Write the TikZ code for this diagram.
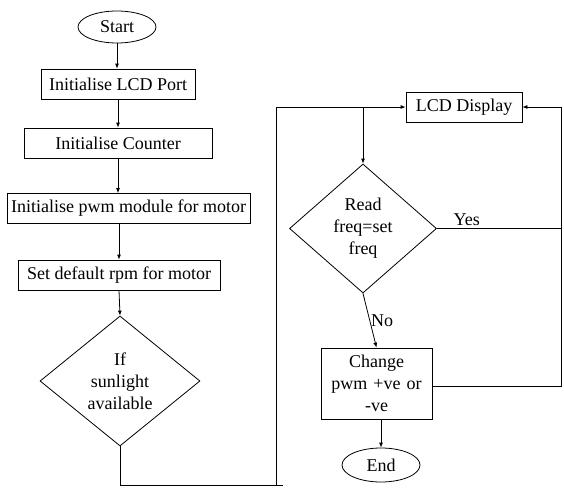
\documentclass[tikz,border=0pt]{standalone}
\usepackage{fontspec}
\setmainfont{Liberation Serif}
\usetikzlibrary{arrows.meta,shapes.geometric}

\begin{document}
\begin{tikzpicture}[x=1pt,y=-1pt,
    every node/.style={font=\fontsize{18}{22}\selectfont},
    proc/.style={draw,line width=0.8pt,minimum height=30pt,inner sep=2pt},
    term/.style={draw,ellipse,line width=0.8pt,inner sep=0pt},
    cond/.style={draw,diamond,line width=0.8pt,inner sep=0pt,align=center},
    arr/.style={line width=0.8pt,-{Latex[length=5pt,width=4pt]}},
    wire/.style={line width=0.8pt}]
  \useasboundingbox (0,0) rectangle (564,495);
  % left column
  \node[term,minimum width=78pt,minimum height=32pt] (start) at (117,27) {Start};
  \foreach \n/\x/\y/\w/\t in {1/118/84/154/Initialise LCD Port,
      2/118/143/188/Initialise Counter,
      3/128.5/208.5/243/Initialise pwm module for motor,
      4/119/275/202/Set default rpm for motor}{
    \node[proc,minimum width=\w pt] (b\n) at (\x,\y) {\t};
  }
  \node[cond,minimum width=160pt,minimum height=130pt] (sun) at (120,381) {If\\sunlight\\available};
  \foreach \a/\b in {start/b1,b1/b2,b2/b3}{
    \draw[arr] (\a.south) -- (\a.south |- \b.north);
  }
  \draw[arr] (b4.north |- b3.south) -- (b4.north);
  \draw[arr] (b4.south) -- (sun.north);
  % right column
  \node[proc,minimum width=116pt] (lcd) at (464,107) {LCD Display};
  \node[cond,minimum width=147pt,minimum height=129pt] (read) at (363,228.5) {Read\\freq=set\\freq};
  \node[proc,minimum width=111pt,minimum height=71pt,text width=104pt,align=center] (chg) at (376.5,383.5) {Change\\pwm +ve or\\-ve};
  \node[term,minimum width=78pt,minimum height=34pt] (end) at (381,465) {End};
  \coordinate (lo) at (120,485);
  \coordinate (lx) at (283,485);
  \coordinate (up) at (276,485);
  \coordinate (rt) at (561,386);
  % connectors
  \draw[wire] (sun.south) -- (lo) -- (lx);
  \draw[arr] (up) |- (lcd.west);
  \draw[arr] (read.north |- lcd.west) -- (read.north);
  \draw[wire] (read.east) -- (read.east -| rt) node[pos=0.24,above,inner sep=2pt] {Yes};
  \draw[arr] (read.south) -- (chg.north) node[midway,right,inner sep=1pt] {No};
  \draw[arr] (chg.east |- rt) -- (rt) -- (rt |- lcd.east) -- (lcd.east);
  \draw[arr] (chg.south -| end.north) -- (end.north);
\end{tikzpicture}
\end{document}
